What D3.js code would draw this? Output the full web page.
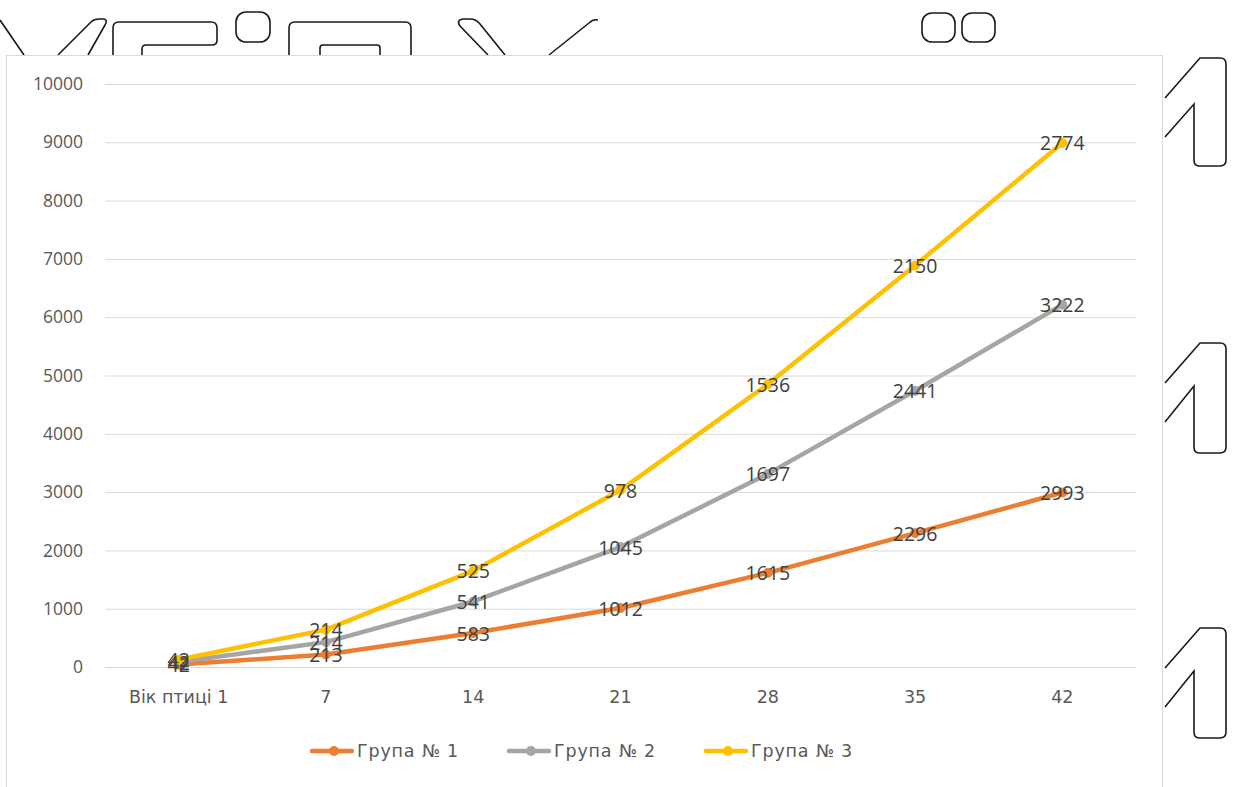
<!DOCTYPE html>
<html>
<head>
<meta charset="utf-8">
<script src="https://cdn.jsdelivr.net/npm/d3@7/dist/d3.min.js"></script>
<style>
  html, body { margin: 0; padding: 0; background: #ffffff; }
  svg { display: block; }
</style>
</head>
<body>
<svg id="chart" width="1238" height="787"></svg>
<script>
// Bird age categories (days)
const categories = ["Вік птиці 1", "7", "14", "21", "28", "35", "42"];
// Live weight per group, g (stacked line chart: each group is added on top of the previous)
const group1 = [42, 213, 583, 1012, 1615, 2296, 2993];
const group2 = [42, 214, 541, 1045, 1697, 2441, 3222];
const group3 = [42, 214, 525, 978, 1536, 2150, 2774];
const seriesNames = ["Група № 1", "Група № 2", "Група № 3"];
const seriesColors = ["#ED7D31", "#A5A5A5", "#FFC000"];
const yTicks = [0, 1000, 2000, 3000, 4000, 5000, 6000, 7000, 8000, 9000, 10000];

const svg = d3.select("#chart");
const numFont = "'Open Sans', sans-serif";
const textFont = "'DejaVu Sans', sans-serif";

// Decorative outlined glyphs of the page behind the chart
const deco = svg.append("g").attr("fill", "none").attr("stroke", "#1a1a1a").attr("stroke-width", 1.6);
[
  "M0,20 L24,55",
  "M58,55 L91,22 Q94,19 99,19 L104,19 Q108,20 105,25 L88,55",
  "M113,55 V28 Q113,22 119,22 H211 Q217,22 217,28 V40 Q217,45 212,45 H146 Q142,45 142,49 V55",
  "M289,55 V28 Q289,22 295,22 H405 Q411,22 411,28 V55",
  "M320,55 V48 Q320,45 323,45 H377 Q380,45 380,48 V55",
  "M488,55 L460,26 Q456,20 463,19 L470,19 Q476,19 480,24 L505,55",
  "M549,55 L589,23 Q593,19 598,20",
  "M1165,98 L1200,58 H1220 Q1226,58 1226,64 V160 Q1226,166 1220,166 H1199 Q1194,166 1194,160 V104 L1165,137",
  "M1165,383 L1200,343 H1220 Q1226,343 1226,349 V447 Q1226,453 1220,453 H1199 Q1194,453 1194,447 V386 L1165,422",
  "M1165,668 L1200,628 H1220 Q1226,628 1226,634 V732 Q1226,738 1220,738 H1199 Q1194,738 1194,732 V671 L1165,707"
].forEach(d => deco.append("path").attr("d", d));
deco.append("rect").attr("x", 236).attr("y", 12).attr("width", 34).attr("height", 30).attr("rx", 10);
deco.append("rect").attr("x", 922).attr("y", 13).attr("width", 33).attr("height", 29).attr("rx", 10);
deco.append("rect").attr("x", 962).attr("y", 13).attr("width", 33).attr("height", 29).attr("rx", 10);

// Chart area
svg.append("rect")
  .attr("x", 6.5).attr("y", 55.5).attr("width", 1156).attr("height", 760)
  .attr("fill", "#ffffff").attr("stroke", "#D9D9D9").attr("stroke-width", 1);

const plot = { left: 105, right: 1136, top: 84, bottom: 667 };

const x = d3.scaleBand().domain(categories).range([plot.left, plot.right]).padding(0);
const y = d3.scaleLinear().domain([0, 10000]).range([plot.bottom, plot.top]);
const cx = c => x(c) + x.bandwidth() / 2;

// Gridlines + y axis labels
const yAxis = d3.axisLeft(y).tickValues(yTicks).tickSize(-(plot.right - plot.left)).tickPadding(22).tickFormat(d3.format("d"));
const gy = svg.append("g").attr("transform", `translate(${plot.left},0)`).call(yAxis);
gy.select(".domain").remove();
gy.selectAll(".tick line").attr("stroke", "#D9D9D9").attr("stroke-width", 1);
gy.selectAll(".tick text").attr("fill", "#595959").attr("font-family", numFont).attr("font-size", 17.5);

// X axis labels
const xAxis = d3.axisBottom(x).tickSize(0).tickPadding(24);
const gx = svg.append("g").attr("transform", `translate(0,${plot.bottom})`).call(xAxis);
gx.select(".domain").remove();
gx.selectAll(".tick text").attr("fill", "#595959").attr("font-family", textFont).attr("font-size", 17.5);

// Stack the groups
const rows = categories.map((c, i) => ({ cat: c, g1: group1[i], g2: group2[i], g3: group3[i] }));
const stacked = d3.stack().keys(["g1", "g2", "g3"])(rows);

const line = d3.line().x(d => cx(d.data.cat)).y(d => y(d[1]));

stacked.forEach((s, k) => {
  svg.append("path").datum(s)
    .attr("d", line)
    .attr("fill", "none")
    .attr("stroke", seriesColors[k])
    .attr("stroke-width", 4.5)
    .attr("stroke-linejoin", "round")
    .attr("stroke-linecap", "round");
  svg.append("g").selectAll("circle").data(s).join("circle")
    .attr("cx", d => cx(d.data.cat)).attr("cy", d => y(d[1])).attr("r", 4.5)
    .attr("fill", seriesColors[k]).attr("stroke", seriesColors[k]);
});

// Data labels (each group's own value, at its stacked point)
stacked.forEach((s, k) => {
  svg.append("g").selectAll("text").data(s).join("text")
    .attr("x", d => cx(d.data.cat)).attr("y", d => y(d[1]))
    .attr("text-anchor", "middle").attr("dominant-baseline", "central")
    .attr("fill", "#404040").attr("font-family", numFont).attr("font-size", 19.5)
    .text(d => d[1] - d[0]);
});

// Legend
const legend = svg.append("g").attr("transform", "translate(312,751)");
const itemW = 197;
seriesNames.forEach((name, k) => {
  const g = legend.append("g").attr("transform", `translate(${k * itemW},0)`);
  g.append("line").attr("x1", 0).attr("x2", 40).attr("y1", 0).attr("y2", 0)
    .attr("stroke", seriesColors[k]).attr("stroke-width", 4.5).attr("stroke-linecap", "round");
  g.append("circle").attr("cx", 22).attr("cy", 0).attr("r", 5).attr("fill", seriesColors[k]);
  g.append("text").attr("x", 45).attr("y", 0).attr("dominant-baseline", "central")
    .attr("fill", "#595959").attr("font-family", textFont).attr("font-size", 17.5)
    .attr("letter-spacing", 0.8)
    .text(name);
});
</script>
</body>
</html>
